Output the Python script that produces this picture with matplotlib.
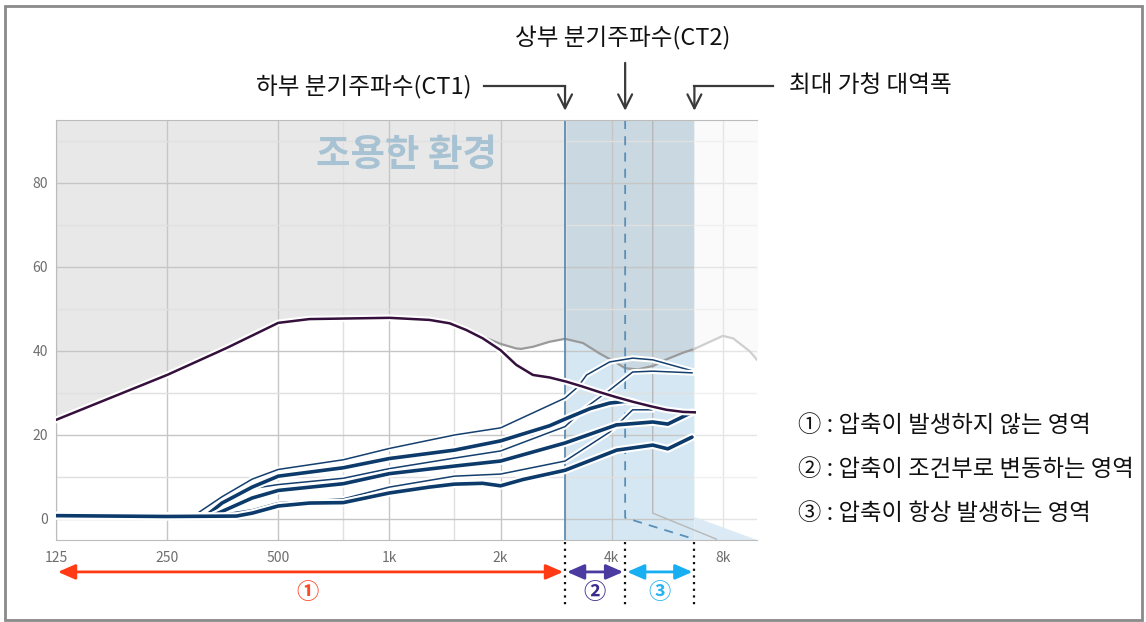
import matplotlib
matplotlib.use("Agg")
import matplotlib.pyplot as plt
import matplotlib.patheffects as pe
from matplotlib.patches import Rectangle, Polygon
import numpy as np

plt.rcParams['font.family'] = ['Noto Sans CJK KR', 'DejaVu Sans']

# frequencies (Hz) / levels (dB)
ct1 = 2990
ct2 = 4350
max_bw = 6700

# threshold curve of the quiet environment (grey)
quiet_freq = [125, 250, 362, 500, 607, 1000, 1284, 1455, 1615, 1791, 2000, 2206, 2275, 2447, 2715,
              2990, 3344, 3711, 4118, 4350, 4700, 5200, 5629, 6244, 6700, 8000, 8533, 9470, 9900]
quiet_db = [23.6, 34.3, 40.7, 46.7, 47.6, 47.9, 47.4, 46.6, 45.2, 43.4, 41.7, 40.6, 40.5, 41.0, 42.2,
            42.9, 41.9, 39.4, 37.2, 35.9, 35.6, 36.5, 38.0, 39.6, 40.5, 43.6, 43.0, 39.9, 37.9]

# upper (purple) curve
upper_freq = [125, 250, 362, 500, 607, 1000, 1284, 1455, 1615, 1791, 2000, 2206, 2447, 2715,
              3015, 3344, 3711, 4118, 4569, 5071, 5629, 6244, 6714]
upper_db = [23.6, 34.3, 40.7, 46.7, 47.6, 47.9, 47.4, 46.6, 45.0, 43.0, 40.2, 36.7, 34.3, 33.7,
            32.7, 31.5, 30.2, 29.0, 27.9, 26.9, 26.0, 25.5, 25.4]

# output curves: thick = measured, thin = companion
thinA_freq = [125, 200, 300, 352, 425, 500, 750, 1000, 1500, 2000, 2990, 3235, 3421, 3950, 4559, 5166, 6600]
thinA_db = [0.8, 0.6, 1.2, 5.3, 9.5, 11.8, 14.1, 16.8, 20.0, 21.7, 28.8, 31.4, 34.3, 37.4, 38.3, 37.9, 35.3]

thick1_freq = [125, 250, 318, 352, 425, 500, 750, 1000, 1500, 2000, 2715, 2990, 3500, 3950, 4350, 4559]
thick1_db = [0.8, 0.6, 0.7, 3.8, 7.6, 10.2, 12.2, 14.4, 16.4, 18.6, 22.2, 23.8, 26.3, 27.6, 28.0, 27.9]

thinB_freq = [125, 250, 319, 352, 435, 500, 750, 1000, 1500, 2000, 2990, 3421, 3950, 4559, 5166, 6600]
thinB_db = [0.8, 0.6, 0.7, 3.5, 7.4, 8.2, 9.7, 12.0, 14.5, 16.2, 22.0, 26.7, 30.7, 35.0, 35.2, 34.8]

thick2_freq = [125, 250, 330, 425, 500, 750, 1000, 1500, 2000, 2990, 3711, 4118, 5166, 5676, 6600]
thick2_db = [0.8, 0.6, 0.7, 5.0, 6.8, 8.4, 10.8, 12.6, 13.8, 18.1, 21.0, 22.4, 23.1, 22.6, 25.4]

thinC_freq = [125, 250, 330, 425, 500, 750, 1000, 1500, 2000, 2990, 3950, 4559, 5140]
thinC_db = [0.8, 0.6, 0.7, 2.2, 3.9, 4.8, 7.6, 10.2, 10.7, 13.8, 20.7, 26.0, 26.0]

thick3_freq = [125, 250, 385, 425, 500, 607, 750, 1000, 1284, 1500, 1788, 2000, 2300, 2990, 4127, 5166, 5676, 6600]
thick3_db = [0.8, 0.6, 0.7, 1.4, 3.1, 3.8, 3.9, 6.2, 7.6, 8.3, 8.5, 7.9, 9.4, 11.6, 16.4, 17.6, 16.7, 19.5]

tick_freq = [125, 250, 500, 1000, 2000, 4000, 8000]
tick_labels = ['125', '250', '500', '1k', '2k', '4k', '8k']

legend_lines = ['① : 압축이 발생하지 않는 영역',
                '② : 압축이 조건부로 변동하는 영역',
                '③ : 압축이 항상 발생하는 영역']

fig = plt.figure(figsize=(11.46, 6.22), dpi=100)
ax = fig.add_axes([56 / 1146, 82 / 622, 701 / 1146, 420 / 622])
ax.set_xscale('log')
ax.set_xlim(125, 9900)
ax.set_ylim(-5, 95)

qf = np.array(quiet_freq)
qd = np.array(quiet_db)
ax.fill_between(qf, qd, 95, where=qf <= ct1, color='#e8e8e8', lw=0, zorder=0.2)
ax.fill_between(qf, qd, 95, where=(qf >= ct1) & (qf <= max_bw), color='#c9d8e1', lw=0, zorder=0.2)
ax.fill_between(qf, -5, qd, where=(qf >= ct1) & (qf <= max_bw), color='#d5e7f2', lw=0, zorder=0.2)
ax.fill_between(qf, qd, 95, where=qf >= max_bw, color='#f4f4f4', lw=0, zorder=0.2)

ax.set_xticks(tick_freq)
ax.set_xticklabels(tick_labels)
ax.set_xticks([750, 1500, 3000], minor=True)
ax.xaxis.set_minor_formatter(matplotlib.ticker.NullFormatter())
ax.set_yticks([0, 20, 40, 60, 80])
ax.set_yticks([10, 30, 50, 70, 90], minor=True)
ax.set_axisbelow(True)
ax.grid(which='major', color='#c6c6c6', lw=1)
ax.grid(which='minor', color='#e0e0e0', lw=1)
ax.tick_params(which='both', length=0, labelsize=10, labelcolor='#6e6e6e')
ax.tick_params(axis='x', pad=8)
ax.tick_params(axis='y', pad=6)
for side in ['left', 'bottom', 'top']:
    ax.spines[side].set_color('#bcbcbc')
ax.spines['right'].set_visible(False)

# faded area beyond the max bandwidth
ax.add_patch(Rectangle((max_bw, -5), 9900 - max_bw, 100, color='white', alpha=0.55, lw=0, zorder=0.6))
ax.add_patch(Polygon([(max_bw, 0.5), (9900, -5), (max_bw, -5)], closed=True,
                     color='#dbeaf4', lw=0, zorder=0.7))
ax.plot([5166, 5166, 7690], [95, 1.4, -4.8], color='#b8b8b8', lw=1, zorder=0.8)

ax.plot(qf[qf <= max_bw], qd[qf <= max_bw], color='#9a9a9a', lw=1.6, zorder=2)
ax.plot(qf[qf >= max_bw], qd[qf >= max_bw], color='#cfcfcf', lw=1.6, zorder=2)

ax.axvline(ct1, color='#4d86b0', lw=1.2, zorder=2.2)
ax.plot([ct2, ct2, max_bw], [95, 0.3, -4.8], color='#5a8fb8', lw=1.3, ls=(0, (5, 4)), zorder=2.2)

halo = lambda w: [pe.Stroke(linewidth=w + 3, foreground='white'), pe.Normal()]
navy = '#0c3a6a'
for f, d in [(thinA_freq, thinA_db), (thinB_freq, thinB_db), (thinC_freq, thinC_db)]:
    ax.plot(f, d, color='#143f6e', lw=1.1, zorder=3, path_effects=halo(1.1))
for f, d in [(thick1_freq, thick1_db), (thick2_freq, thick2_db), (thick3_freq, thick3_db)]:
    ax.plot(f, d, color=navy, lw=2.6, zorder=3.2, path_effects=halo(2.6),
            solid_capstyle='round', solid_joinstyle='round')
ax.plot(upper_freq, upper_db, color='#35103c', lw=1.8, zorder=3.5, path_effects=halo(1.8))

ax.text(1110, 86.7, '조용한 환경', ha='center', va='center', fontsize=27, fontweight='bold',
        color='#a7c2d2', zorder=4)

# top annotations
trans = ax.get_xaxis_transform()
ak = dict(arrowstyle='->,head_length=1.0,head_width=0.5', color='#3a3a3a', lw=1.6,
          shrinkA=0, shrinkB=0)
y_line = 1.081
y_tip = 1.022
ax.plot([1799, ct1], [y_line, y_line], transform=trans, clip_on=False, color='#3a3a3a', lw=1.6)
ax.annotate('', xy=(ct1, y_tip), xytext=(ct1, y_line), xycoords=trans, textcoords=trans, arrowprops=ak)
ax.annotate('', xy=(ct2, y_tip), xytext=(ct2, 1.136), xycoords=trans, textcoords=trans, arrowprops=ak)
ax.plot([max_bw, 10930], [y_line, y_line], transform=trans, clip_on=False, color='#3a3a3a', lw=1.6)
ax.annotate('', xy=(max_bw, y_tip), xytext=(max_bw, y_line), xycoords=trans, textcoords=trans, arrowprops=ak)

fig.text(472 / 1146, 1 - 86 / 622, '하부 분기주파수(CT1)', ha='right', va='center', fontsize=17,
         fontweight='medium', color='#111111')
fig.text(623 / 1146, 1 - 38 / 622, '상부 분기주파수(CT2)', ha='center', va='center', fontsize=17,
         fontweight='medium', color='#111111')
fig.text(789 / 1146, 1 - 86 / 622, '최대 가청 대역폭', ha='left', va='center', fontsize=17,
         fontweight='medium', color='#111111')

# legend text on the right
for i, line in enumerate(legend_lines):
    fig.text(798 / 1146, 1 - (425 + 44 * i) / 622, line, ha='left', va='center', fontsize=16.8,
             fontweight='medium', color='#111111')

# bottom range arrows
y_arr = -0.076
y_num = -0.124
ranges = [(125, ct1, '#ff3a14', '①', 599, '#ff4a2a'),
          (ct1, ct2, '#4b3a9f', '②', 3600, '#3a2a8c'),
          (ct2, max_bw, '#17aef2', '③', 5400, '#2ab4f0')]
for lo, hi, col, lab, xm, tcol in ranges:
    ax.annotate('', xy=(lo * 1.012, y_arr), xytext=(hi * 0.988, y_arr), xycoords=trans, textcoords=trans,
                arrowprops=dict(arrowstyle='<|-|>,head_length=0.8,head_width=0.35', color=col, lw=2,
                                shrinkA=0, shrinkB=0, mutation_scale=13))
    ax.text(xm, y_num, lab, transform=trans, ha='center', va='center', fontsize=16,
            fontweight='bold', color=tcol)
for f in [ct1, ct2, max_bw]:
    ax.plot([f, f], [-0.004, -0.155], transform=trans, clip_on=False, color='#111111',
            lw=1.6, ls=(0, (1, 2)))

fig.add_artist(Rectangle((5 / 1146, 2 / 622), 1137 / 1146, 614 / 622, transform=fig.transFigure,
                         fill=False, edgecolor='#8a8a8a', lw=2))

fig.savefig('out.png', dpi=100)
